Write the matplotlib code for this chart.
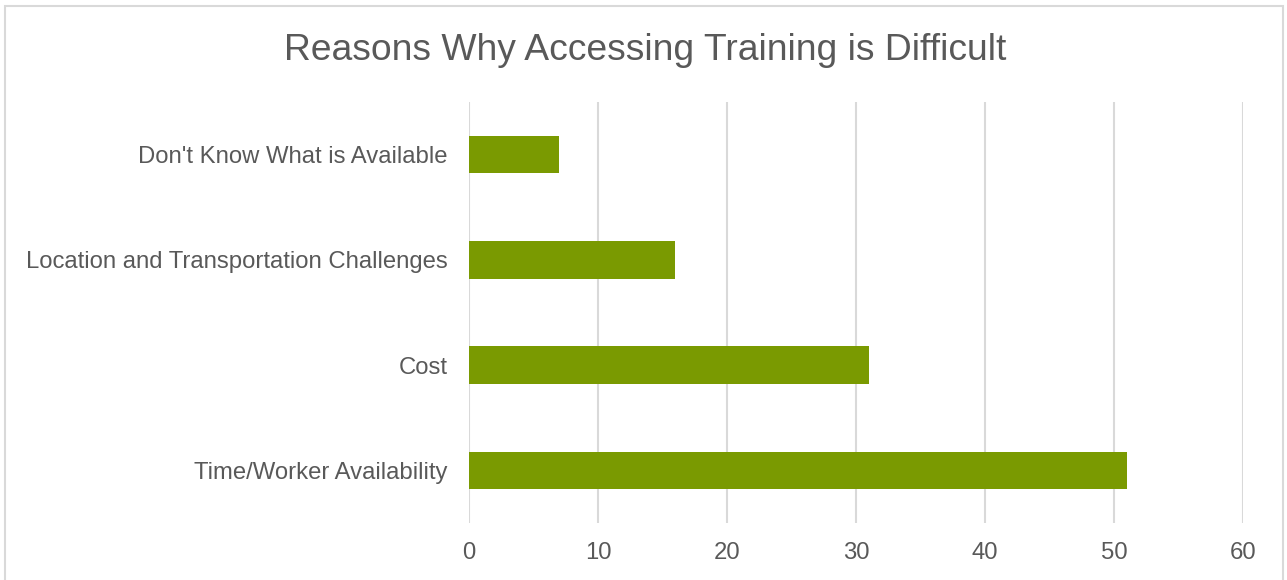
import matplotlib
matplotlib.use("Agg")
import matplotlib.pyplot as plt
from matplotlib.patches import Rectangle

categories = ["Time/Worker Availability", "Cost",
              "Location and Transportation Challenges", "Don't Know What is Available"]
values = [51, 31, 16, 7]
xticks = [0, 10, 20, 30, 40, 50, 60]

plt.rcParams['font.family'] = ['Liberation Sans', 'DejaVu Sans']
txt = '#595959'
grid = '#D9D9D9'

fig = plt.figure(figsize=(12.87, 5.8), dpi=100)
ax = fig.add_axes([469/1287, 1-523/580, (1243-469)/1287, (523-102)/580])

ax.barh(range(len(categories)), values, height=0.355, color='#7A9A01', zorder=3)
ax.set_ylim(-0.5, len(categories)-0.5)
ax.set_xlim(0, 60)
ax.set_xticks(xticks)
ax.set_xticklabels([str(t) for t in xticks])
ax.set_yticks(range(len(categories)))
ax.set_yticklabels(categories)
ax.tick_params(axis='both', length=0, labelsize=17.2, labelcolor=txt)
ax.tick_params(axis='x', pad=14)
ax.tick_params(axis='y', pad=15.5)
ax.grid(axis='x', color=grid, linewidth=1.5, zorder=0)
for s in ax.spines.values():
    s.set_visible(False)

fig.text(645/1287, 1-50/580, "Reasons Why Accessing Training is Difficult",
         ha='center', va='center', fontsize=26.8, color=txt)

fig.patches.append(Rectangle((5/1287, -0.05), (1283-5)/1287, 1.05-6/580,
                             transform=fig.transFigure, fill=False,
                             edgecolor=grid, linewidth=1.5))

fig.savefig("out.png", dpi=100)
